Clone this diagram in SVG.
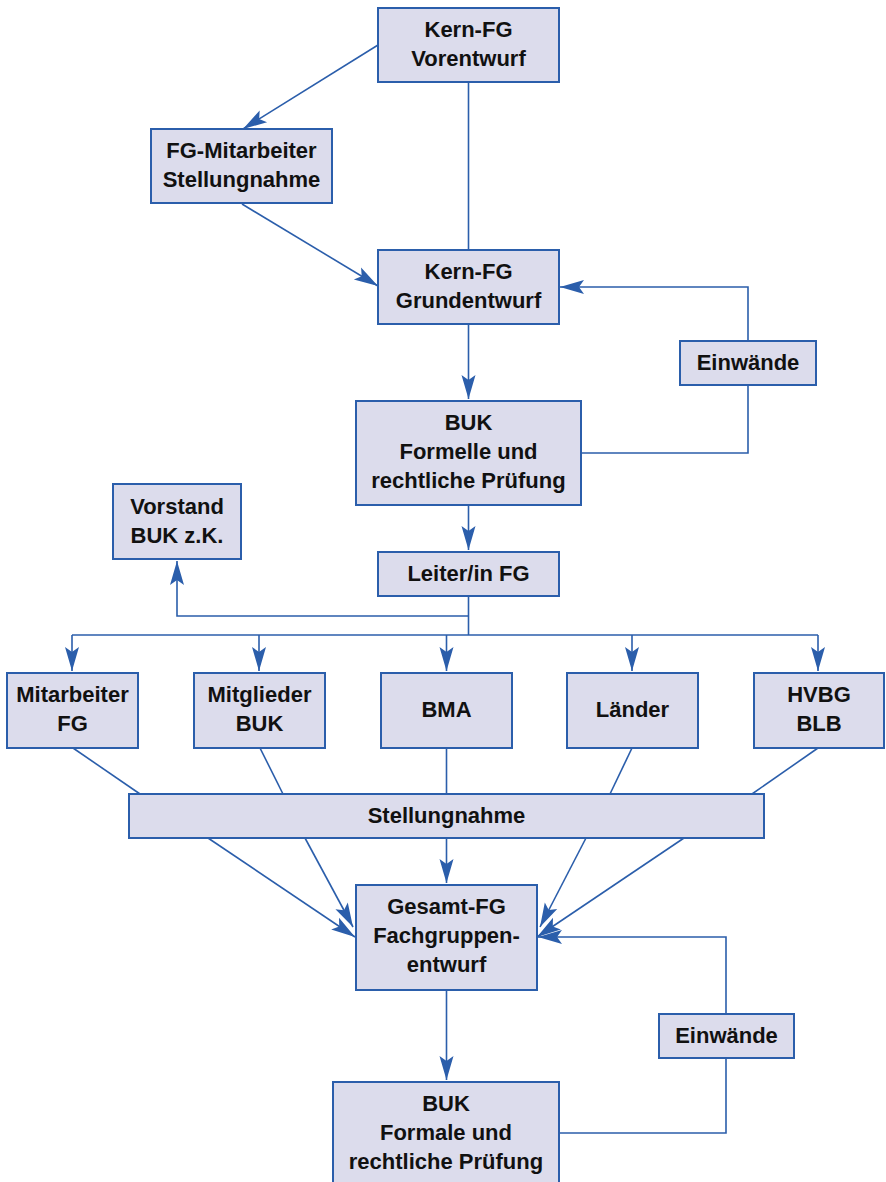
<svg xmlns="http://www.w3.org/2000/svg" width="886" height="1182" viewBox="0 0 886 1182">
<style>
.box{fill:#dcdcec;stroke:#2b5eab;stroke-width:2}
.t{font-family:"Liberation Sans",Arial,sans-serif;font-weight:bold;font-size:22px;fill:#111;text-anchor:middle}
.c{fill:none;stroke:#2b5eab;stroke-width:1.6}
.a{marker-end:url(#ah)}
</style>
<defs>
<marker id="ah" markerUnits="userSpaceOnUse" viewBox="-25 -8 26 16" markerWidth="26" markerHeight="16" refX="0" refY="0" orient="auto">
<path d="M0,0 L-24,-7 L-19,0 L-24,7 Z" fill="#2b5eab"/>
</marker>
</defs>
<rect width="886" height="1182" fill="#fff"/>
<g id="connectors">
<line class="c a" x1="378" y1="45" x2="243" y2="129"/>
<line class="c a" x1="242" y1="204" x2="378" y2="286"/>
<line class="c" x1="468.5" y1="82" x2="468.5" y2="250"/>
<line class="c a" x1="468.5" y1="324" x2="468.5" y2="399"/>
<polyline class="c" points="581,453 748,453 748,385"/>
<polyline class="c a" points="748,341 748,287 560,287"/>
<line class="c a" x1="468.5" y1="505" x2="468.5" y2="550"/>
<line class="c" x1="468.5" y1="596" x2="468.5" y2="635"/>
<polyline class="c a" points="468.5,616 177,616 177,561"/>
<line class="c" x1="72" y1="635" x2="818" y2="635"/>
<line class="c a" x1="72" y1="635" x2="72" y2="671"/>
<line class="c a" x1="259" y1="635" x2="259" y2="671"/>
<line class="c a" x1="446.5" y1="635" x2="446.5" y2="671"/>
<line class="c a" x1="632" y1="635" x2="632" y2="671"/>
<line class="c a" x1="818" y1="635" x2="818" y2="671"/>
<line class="c" x1="73" y1="748" x2="140" y2="794"/>
<line class="c" x1="260" y1="748" x2="283" y2="794"/>
<line class="c" x1="446.5" y1="748" x2="446.5" y2="794"/>
<line class="c" x1="632" y1="748" x2="610" y2="794"/>
<line class="c" x1="818" y1="748" x2="752" y2="794"/>
<line class="c a" x1="208" y1="838" x2="355" y2="937"/>
<line class="c a" x1="305" y1="838" x2="353" y2="927"/>
<line class="c a" x1="446.5" y1="838" x2="446.5" y2="883"/>
<line class="c a" x1="586" y1="838" x2="540" y2="927"/>
<line class="c a" x1="684" y1="838" x2="537" y2="937"/>
<line class="c a" x1="446.5" y1="990" x2="446.5" y2="1080"/>
<polyline class="c" points="559,1133 726,1133 726,1058"/>
<polyline class="c a" points="726,1014 726,937 538,937"/>
</g>
<g id="n-vorentwurf"><rect class="box" x="378" y="8" width="181" height="74"/><text class="t" x="468.5" y="37">Kern-FG</text><text class="t" x="468.5" y="66">Vorentwurf</text></g>
<g id="n-fgmit"><rect class="box" x="151" y="129" width="181" height="74"/><text class="t" x="241.5" y="158">FG-Mitarbeiter</text><text class="t" x="241.5" y="187">Stellungnahme</text></g>
<g id="n-grundentwurf"><rect class="box" x="378" y="250" width="181" height="74"/><text class="t" x="468.5" y="279">Kern-FG</text><text class="t" x="468.5" y="308">Grundentwurf</text></g>
<g id="n-einwaende1"><rect class="box" x="680" y="341" width="136" height="44"/><text class="t" x="748" y="370">Einwände</text></g>
<g id="n-buk1"><rect class="box" x="356" y="401" width="225" height="104"/><text class="t" x="468.5" y="430">BUK</text><text class="t" x="468.5" y="459">Formelle und</text><text class="t" x="468.5" y="488">rechtliche Prüfung</text></g>
<g id="n-vorstand"><rect class="box" x="113" y="484" width="128" height="75"/><text class="t" x="177" y="514">Vorstand</text><text class="t" x="177" y="543">BUK z.K.</text></g>
<g id="n-leiter"><rect class="box" x="378" y="552" width="181" height="44"/><text class="t" x="468.5" y="581">Leiter/in FG</text></g>
<g id="n-mitarbeiter"><rect class="box" x="7" y="673" width="131" height="75"/><text class="t" x="72.5" y="702">Mitarbeiter</text><text class="t" x="72.5" y="731">FG</text></g>
<g id="n-mitglieder"><rect class="box" x="194" y="673" width="131" height="75"/><text class="t" x="259.5" y="702">Mitglieder</text><text class="t" x="259.5" y="731">BUK</text></g>
<g id="n-bma"><rect class="box" x="381" y="673" width="131" height="75"/><text class="t" x="446.5" y="717">BMA</text></g>
<g id="n-laender"><rect class="box" x="567" y="673" width="131" height="75"/><text class="t" x="632.5" y="717">Länder</text></g>
<g id="n-hvbg"><rect class="box" x="754" y="673" width="130" height="75"/><text class="t" x="819" y="702">HVBG</text><text class="t" x="819" y="731">BLB</text></g>
<g id="n-stellungnahme"><rect class="box" x="129" y="794" width="635" height="44"/><text class="t" x="446.5" y="823">Stellungnahme</text></g>
<g id="n-gesamt"><rect class="box" x="356" y="885" width="181" height="105"/><text class="t" x="446.5" y="914">Gesamt-FG</text><text class="t" x="446.5" y="943">Fachgruppen-</text><text class="t" x="446.5" y="972">entwurf</text></g>
<g id="n-einwaende2"><rect class="box" x="659" y="1014" width="135" height="44"/><text class="t" x="726.5" y="1043">Einwände</text></g>
<g id="n-buk2"><rect class="box" x="333" y="1082" width="226" height="106"/><text class="t" x="446" y="1111">BUK</text><text class="t" x="446" y="1140">Formale und</text><text class="t" x="446" y="1169">rechtliche Prüfung</text></g>
</svg>
